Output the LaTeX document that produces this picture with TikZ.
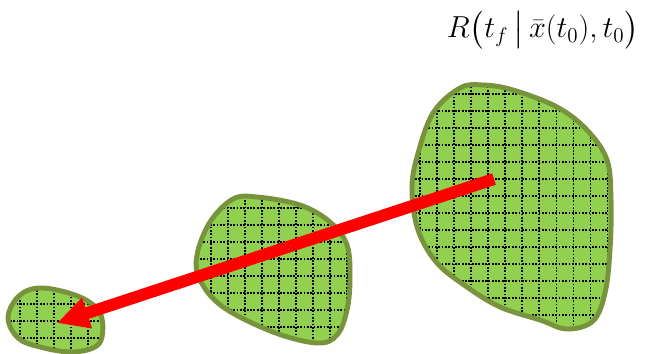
\documentclass[tikz,border=0pt]{standalone}
\usepackage{amsmath,amssymb}
\usetikzlibrary{arrows.meta}
\definecolor{blobgreen}{RGB}{146,208,80}
\definecolor{blobedge}{RGB}{119,147,60}

\tikzset{
  blobfill/.style={fill=blobgreen},
  blobline/.style={draw=blobedge, line width=2.8pt},
  griddots/.style={black, line width=1pt, dash pattern=on 1pt off 0.9pt},
  bigarrow/.style={red, line width=6.8pt, -{Triangle[length=18pt,width=17pt]}}
}

\def\bigblob{plot[smooth cycle, tension=0.6] coordinates {(483,85) (513,90) (557,107) (587,130) (607,160) (611,200) (610,250) (605,293) (593,321) (567,329) (540,320) (500,307) (467,287) (437,263) (418,230) (412,190) (417,157) (433,113) (460,88)}}
\def\midblob{plot[smooth cycle, tension=0.6] coordinates {(257,197) (300,205) (330,222) (347,245) (350,278) (347,310) (337,335) (317,343) (273,332) (223,307) (200,280) (197,255) (210,222) (233,199)}}
\def\smallblob{plot[smooth cycle, tension=0.6] coordinates {(43,288) (80,297) (100,313) (102,337) (93,348) (70,352) (40,347) (18,338) (8,317) (20,295)}}

\begin{document}
\begin{tikzpicture}[x=0.02cm, y=-0.02cm]
  \useasboundingbox (0,0) rectangle (645,354);

  % grosse Menge
  \fill[blobfill] \bigblob;
  \begin{scope}
    \clip \bigblob;
    \foreach \k in {-1,...,12} \draw[griddots] ({420+17.05*\k},80) -- ({420+17.05*\k},335);
    \foreach \k in {-1,...,14} \draw[griddots] (405,{94+17*\k}) -- (620,{94+17*\k});
  \end{scope}
  \draw[blobline] \bigblob;

  % mittlere Menge
  \fill[blobfill] \midblob;
  \begin{scope}
    \clip \midblob;
    \foreach \k in {-2,...,8} \draw[griddots] ({228+17*\k},190) -- ({228+17*\k},350);
    \foreach \k in {-1,...,8} \draw[griddots] (190,{208+17*\k}) -- (360,{208+17*\k});
  \end{scope}
  \draw[blobline] \midblob;

  % kleine Menge
  \fill[blobfill] \smallblob;
  \begin{scope}
    \clip \smallblob;
    \foreach \k in {0,...,6} \draw[griddots] ({3+17*\k},280) -- ({3+17*\k},354);
    \foreach \k in {0,...,4} \draw[griddots] (0,{287+17*\k}) -- (110,{287+17*\k});
  \end{scope}
  \draw[blobline] \smallblob;

  % Pfeil
  \coordinate (start) at (494,179);
  \coordinate (tip) at (57,323);
  \draw[bigarrow] (start) -- (tip);

  \node (reach) at (543,30) {\fontsize{18}{21}\selectfont $R\bigl(t_f\,\big|\,\bar{x}(t_0),t_0\bigr)$};
\end{tikzpicture}
\end{document}
